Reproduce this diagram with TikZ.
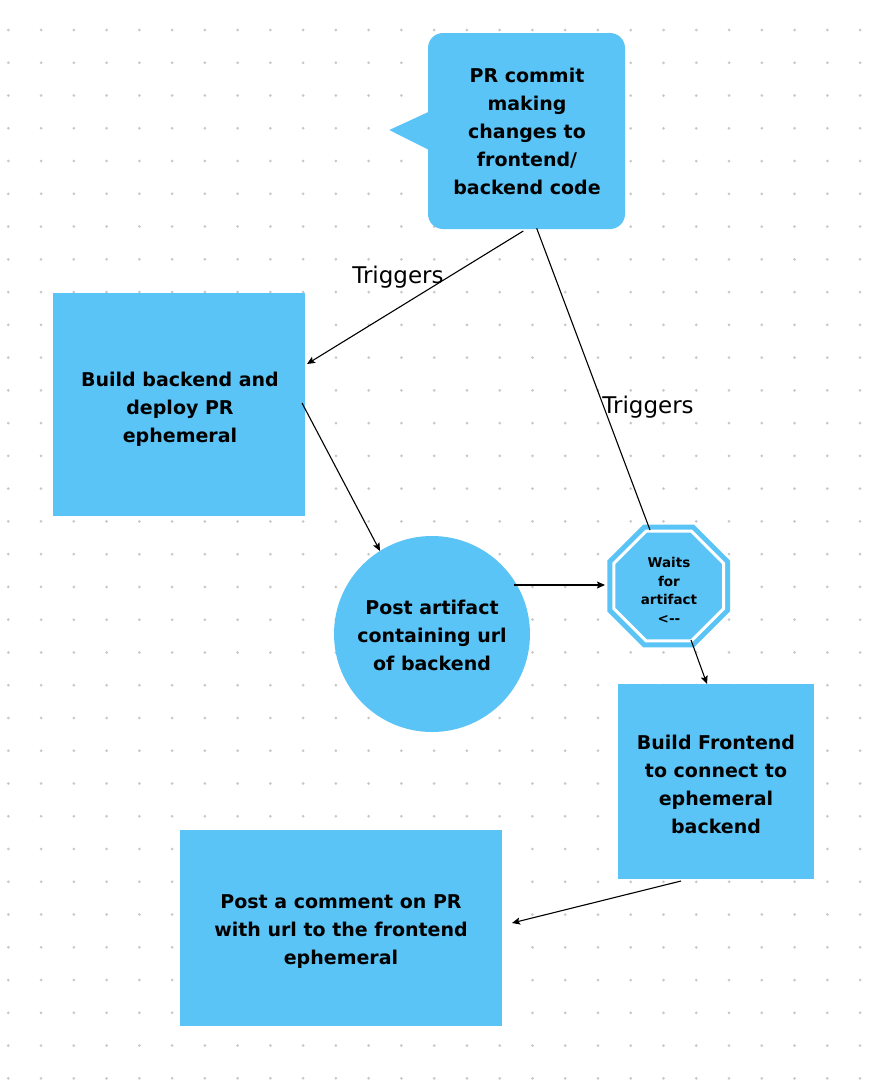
\documentclass[tikz,border=0pt]{standalone}
\usepackage{fontspec}
\setmainfont{DejaVu Sans}
\usetikzlibrary{shapes.geometric,arrows.meta}
\definecolor{boxblue}{RGB}{91,196,246}
\definecolor{dotgray}{RGB}{200,200,200}
\tikzset{
  shapebox/.style={fill=boxblue, draw=none, inner sep=0pt, outer sep=0pt},
  boxtext/.style={inner sep=0pt, align=center, font=\fontsize{19}{28}\selectfont\bfseries},
  conn/.style={draw=black, line width=1.1pt},
  arr/.style={conn, -{Stealth[length=8pt,width=7pt,inset=1.5pt]}},
  lbl/.style={font=\fontsize{23}{26}\selectfont, inner sep=0pt},
}
\begin{document}
\begin{tikzpicture}[x=1pt,y=-1pt]
\useasboundingbox (0,0) rectangle (882,1080);
% dot grid
\foreach \i in {0,...,26}{
  \foreach \j in {0,...,32}{
    \fill[dotgray] ({8.3+32.76*\i},{30+32.76*\j}) circle (1.5);
  }
}
% speech bubble
\node[shapebox, minimum width=197pt, minimum height=196pt, rounded corners=15pt] (pr) at (526.5,131) {};
\fill[boxblue] ([xshift=1pt,yshift=19.3pt]pr.west) -- (389.3,130) -- ([xshift=1pt,yshift=-19pt]pr.west) -- cycle;
\node[boxtext] (prt) at (527,131) {PR commit\\making\\changes to\\frontend/\\backend code};
% boxes
\node[shapebox, minimum width=252pt, minimum height=223pt] (be) at (179,404.5) {};
\node[boxtext] (bet) at (180,409) {Build backend and\\deploy PR\\ephemeral};
\node[shapebox, circle, minimum size=196pt] (art) at (432,634) {};
\node[boxtext] (artt) at (432,635) {Post artifact\\containing url\\of backend};
\node[shapebox, regular polygon, regular polygon sides=8, minimum size=118.7pt,
  draw=boxblue, double=white, double distance=3pt, line width=5pt] (wait) at (668.7,586) {};
\node[boxtext, font=\fontsize{13.5}{18.5}\selectfont\bfseries] (waitt) at (669,590.5)
  {Waits\\for\\artifact\\<-{}-};
\node[shapebox, minimum width=196pt, minimum height=195pt] (fe) at (716,781.5) {};
\node[boxtext] (fet) at (716,784) {Build Frontend\\to connect to\\ephemeral\\backend};
\node[shapebox, minimum width=322pt, minimum height=196pt] (cm) at (341,928) {};
\node[boxtext] (cmt) at (341,932) {Post a comment on PR\\with url to the frontend\\ephemeral};
% connector end points
\coordinate (a1) at (523.3,231);
\coordinate (a2) at (307,364);
\coordinate (b1) at (536.7,228.3);
\coordinate (b2) at (650,530);
\coordinate (c1) at (302,403);
\coordinate (c2) at (380,551);
\coordinate (d1) at (514,585);
\coordinate (d2) at (605,585);
\coordinate (e1) at (691,640);
\coordinate (e2) at (707,684);
\coordinate (f1) at (681,881);
\coordinate (f2) at (512,923);
\draw[arr] (a1) -- (a2);
\draw[conn] (b1) -- (b2);
\draw[arr] (c1) -- (c2);
\draw[arr] (d1) -- (d2);
\draw[arr] (e1) -- (e2);
\draw[arr] (f1) -- (f2);
% labels
\node[lbl] (t1) at (398,277) {Triggers};
\node[lbl] (t2) at (648,407) {Triggers};
\end{tikzpicture}
\end{document}
